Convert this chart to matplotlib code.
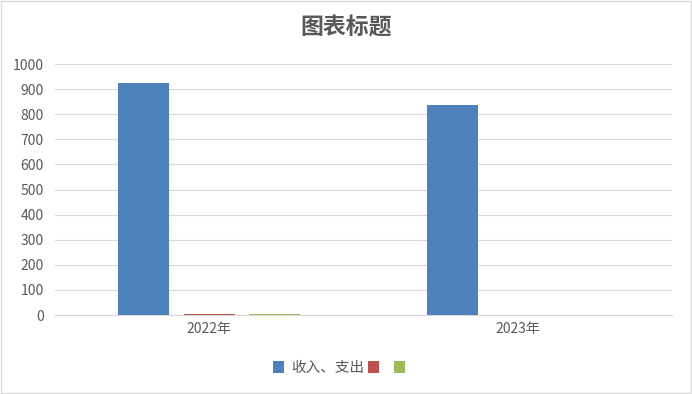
import matplotlib
matplotlib.use('Agg')
import matplotlib.pyplot as plt
import numpy as np
from matplotlib.patches import Rectangle

plt.rcParams['font.family'] = ['Noto Sans CJK SC', 'DejaVu Sans']

# данные
categories = ['2022年', '2023年']
series_names = ['收入、支出', ' ', ' ']
series_values = [
    [924, 837],
    [5, 0],
    [5, 0],
]
colors = ['#4F81BD', '#C0504D', '#9BBB59']

fig = plt.figure(figsize=(6.92, 3.94), dpi=100)
fig.patch.set_facecolor('white')
# рамка вокруг холста
fig.patches.append(Rectangle((0.001, 0.002), 0.997, 0.995, transform=fig.transFigure,
                             fill=False, edgecolor='#D9D9D9', linewidth=1))

ax = fig.add_axes([0.0795, 0.2005, 0.8915, 0.637])

x = np.arange(len(categories))
width = 0.165
offset = 0.212
handles = []
for i, (name, vals) in enumerate(zip(series_names, series_values)):
    h = ax.bar(x + (i - 1) * offset, vals, width, color=colors[i], label=name, zorder=3)
    handles.append(h)

ax.set_xlim(-0.5, 1.5)
ax.set_ylim(0, 1000)
ax.set_yticks(np.arange(0, 1001, 100))
ax.set_xticks(x)
ax.set_xticklabels(categories)
ax.grid(axis='y', color='#D9D9D9', linewidth=0.8, zorder=0)
for s in ['left', 'right', 'top']:
    ax.spines[s].set_visible(False)
ax.spines['bottom'].set_color('#D9D9D9')
ax.tick_params(axis='both', length=0, labelsize=10, colors='#595959', pad=8)
ax.tick_params(axis='x', pad=5)

fig.text(0.5, 0.93, '图表标题', ha='center', va='center', fontsize=16.5,
         fontweight='bold', color='#595959')

fig.legend(handles=handles, labels=series_names, loc='center', bbox_to_anchor=(0.497, 0.066),
           ncol=3, frameon=False, fontsize=10.5, labelcolor='#595959',
           handlelength=0.75, handleheight=0.8, handletextpad=0.45, columnspacing=0.3)

plt.savefig('out.png', dpi=100)
plt.close()
